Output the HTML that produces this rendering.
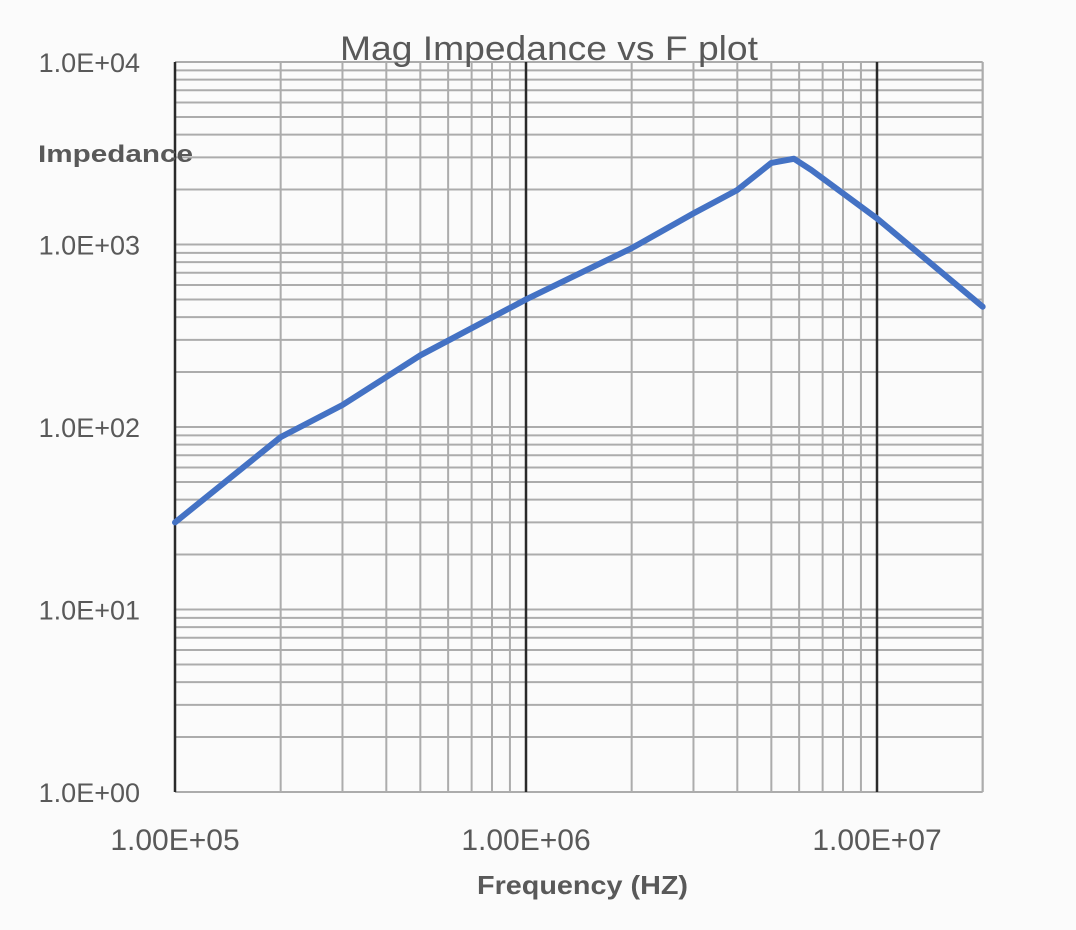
<!DOCTYPE html>
<html><head><meta charset="utf-8"><style>
body{margin:0;background:#fbfbfb;}
svg{display:block;font-family:"Liberation Sans",sans-serif;}
</style></head><body>
<svg width="1076" height="930" id="chart">
<rect width="1076" height="930" fill="#fbfbfb"/>
<g id="grid"></g><g id="labels"></g><g id="series"></g>
<text x="340" y="60" font-size="34" fill="#595959" textLength="418" lengthAdjust="spacingAndGlyphs">Mag Impedance vs F plot</text>
<text x="38" y="162" font-size="24" font-weight="bold" fill="#595959" textLength="155" lengthAdjust="spacingAndGlyphs">Impedance</text>
<text x="477" y="894" font-size="26" font-weight="bold" fill="#595959" textLength="211" lengthAdjust="spacingAndGlyphs">Frequency (HZ)</text>
</svg>
<script>
const freqs=[1e5,2e5,3e5,5e5,1e6,2e6,3e6,4e6,5e6,5.8e6,6.5e6,1e7,2e7];
const impedance=[30,88,132,247,500,955,1480,1990,2800,2950,2560,1390,456];
const xTickLabels=["1.00E+05","1.00E+06","1.00E+07"];
const yTickLabels=["1.0E+00","1.0E+01","1.0E+02","1.0E+03","1.0E+04"];
const X0=175,XDEC=351,Y0=792,YDEC=182.5,XMAX=2e7;
const sx=f=>X0+(Math.log10(f)-5)*XDEC;
const sy=v=>Y0-Math.log10(v)*YDEC;
const NS="http://www.w3.org/2000/svg";
function mk(t,a,p){const e=document.createElementNS(NS,t);for(const k in a)e.setAttribute(k,a[k]);p.appendChild(e);return e;}
const g=document.getElementById('grid'),lb=document.getElementById('labels'),sr=document.getElementById('series');
const xr=sx(XMAX);
for(let d=0;d<4;d++)for(let m=1;m<10;m++){const v=m*Math.pow(10,d);
 const l=mk('line',{x1:X0,x2:xr,y1:sy(v),y2:sy(v),stroke:'#acacac','stroke-width':2},g);
 
 }
const topLine=mk('line',{x1:X0,x2:xr,y1:sy(1e4),y2:sy(1e4),stroke:'#acacac','stroke-width':2},g);


for(let d=5;d<8;d++)for(let m=1;m<10;m++){const f=m*Math.pow(10,d);if(f>XMAX)break;
 const major=m===1;
 const l=mk('line',{x1:sx(f),x2:sx(f),y1:sy(1e4),y2:Y0,stroke:major?'#2a2a2a':'#acacac','stroke-width':major?2.5:2},g);
 
 }
const rb=mk('line',{x1:xr,x2:xr,y1:sy(1e4),y2:Y0,stroke:'#acacac','stroke-width':2},g);


yTickLabels.forEach((t,i)=>{const e=mk('text',{x:140,y:sy(Math.pow(10,i))+10,'font-size':27,fill:'#595959','text-anchor':'end'},lb);e.textContent=t;
 
 });
xTickLabels.forEach((t,i)=>{const e=mk('text',{x:sx(Math.pow(10,5+i)),y:850,'font-size':30,fill:'#595959','text-anchor':'middle'},lb);e.textContent=t;
 
 });
const pts=freqs.map((f,i)=>sx(f)+','+sy(impedance[i]));
const path=mk('polyline',{points:pts.join(' '),fill:'none',stroke:'#4472c4','stroke-width':6,'stroke-linecap':'round','stroke-linejoin':'round'},sr);


</script>
</body></html>
